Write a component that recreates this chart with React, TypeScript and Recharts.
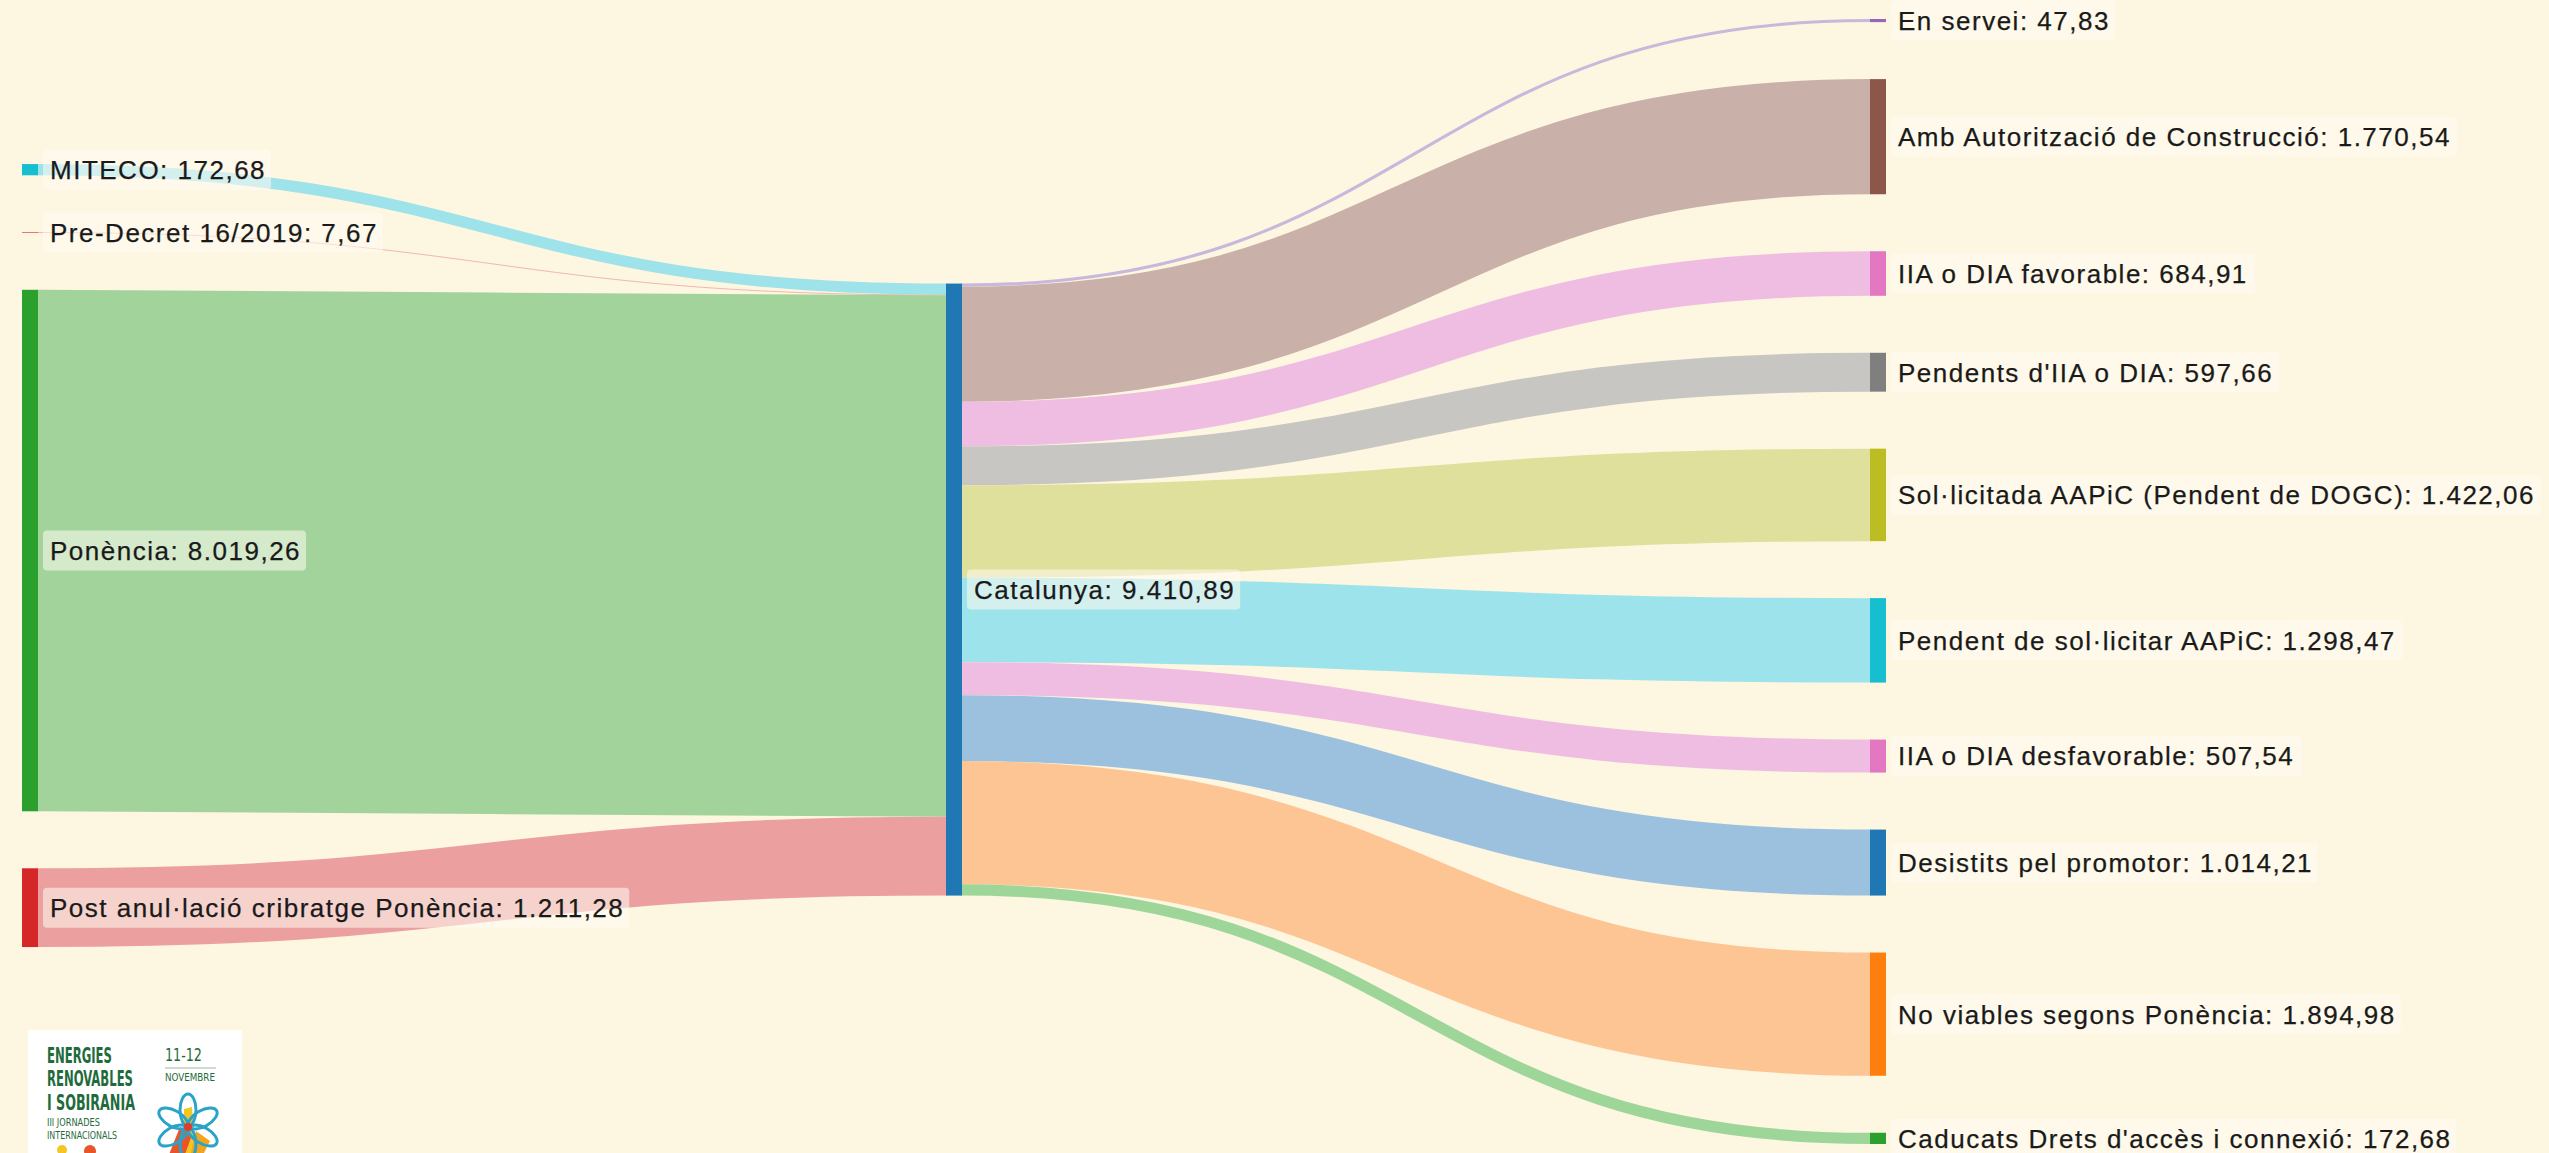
import React from 'react';
import { Sankey } from 'recharts';

// ---- data ----
const sourceNames = ['MITECO', 'Pre-Decret 16/2019', 'Ponència', 'Post anul·lació cribratge Ponència'];
const sourceValues = [172.68, 7.67, 8019.26, 1211.28];
const hubName = 'Catalunya';
const outcomeNames = [
  'En servei',
  'Amb Autorització de Construcció',
  'IIA o DIA favorable',
  "Pendents d'IIA o DIA",
  'Sol·licitada AAPiC (Pendent de DOGC)',
  'Pendent de sol·licitar AAPiC',
  'IIA o DIA desfavorable',
  'Desistits pel promotor',
  'No viables segons Ponència',
  "Caducats Drets d'accès i connexió",
];
const outcomeValues = [47.83, 1770.54, 684.91, 597.66, 1422.06, 1298.47, 507.54, 1014.21, 1894.98, 172.68];

// ---- styles ----
const sourceNodeColors = ['#17becf', '#d62728', '#2ca02c', '#d62728'];
const sourceLinkColors = ['#9ee2ea', '#eca7a7', '#a2d39b', '#eb9f9f'];
const hubColor = '#1f77b4';
const outcomeNodeColors = ['#9467bd', '#8c564b', '#e377c2', '#7f7f7f', '#bcbd22', '#17becf', '#e377c2', '#1f77b4', '#ff7f0e', '#2ca02c'];
const outcomeLinkColors = ['#c8b8dc', '#c9b0a9', '#efbde2', '#c7c6c3', '#dfe09b', '#9de3eb', '#efbde2', '#9cc1de', '#fdc594', '#9dd698'];

// invisible spacer flows that reproduce the original vertical arrangement of the columns
const spacerLeftTop = 1354;
const spacerLeftBottom = 1838;
const spacerTail = 0.001;

const BG = '#fdf6e1';
const FONT = '"Liberation Sans", Arial, Helvetica, sans-serif';
const FONT_SIZE = 26;
const LETTER_SPACING = 1.5;

// ---- build sankey data ----
type N = { name: string; color?: string; spacer?: boolean };
const nodes: N[] = [];
const links: any[] = [];
const L0 = nodes.push({ name: 's0', spacer: true }) - 1;
const srcIdx = sourceNames.map((n, i) => nodes.push({ name: n, color: sourceNodeColors[i] }) - 1);
const L1 = nodes.push({ name: 's1', spacer: true }) - 1;
const M0 = nodes.push({ name: 's2', spacer: true }) - 1;
const hub = nodes.push({ name: hubName, color: hubColor }) - 1;
const outIdx = outcomeNames.map((n, i) => nodes.push({ name: n, color: outcomeNodeColors[i] }) - 1);
const R0 = nodes.push({ name: 's3', spacer: true }) - 1;

links.push({ source: L0, target: M0, value: spacerLeftTop, spacer: true });
srcIdx.forEach((s, i) => links.push({ source: s, target: hub, value: sourceValues[i], color: sourceLinkColors[i] }));
links.push({ source: L1, target: M0, value: spacerLeftBottom, spacer: true });
outIdx.forEach((t, i) => links.push({ source: hub, target: t, value: outcomeValues[i], color: outcomeLinkColors[i] }));
links.push({ source: M0, target: R0, value: spacerTail, spacer: true });

const sankeyData = { nodes, links };

const fmt = (v: number) => {
  const [i, d] = v.toFixed(2).split('.');
  return i.replace(/\B(?=(\d{3})+(?!\d))/g, '.') + ',' + d;
};

let ctx: CanvasRenderingContext2D | null = null;
const measureFont = (s: string, font: string) => {
  if (!ctx) {
    const c = document.createElement('canvas');
    ctx = c.getContext('2d');
  }
  if (!ctx) return s.length * 10;
  ctx.font = font;
  return ctx.measureText(s).width;
};
const measure = (s: string) =>
  measureFont(s, `${FONT_SIZE}px ${FONT}`) + LETTER_SPACING * s.length;

const SankeyNode = (props: any) => {
  const { x, y, width, height, payload } = props;
  if (!payload || payload.spacer) return <g />;
  const label = `${payload.name}: ${fmt(payload.value)}`;
  const tx = x + width + 12;
  const cy = y + height / 2;
  const w = measure(label);
  return (
    <g>
      <rect x={x} y={y} width={width} height={Math.max(height, 0.6)} fill={payload.color} />
      <rect x={tx - 7} y={cy - 20} width={w + 12} height={40} rx={4} fill="#fffcf2" fillOpacity={0.55} />
      <text
        x={tx}
        y={cy}
        dy="0.36em"
        fontFamily={FONT}
        fontSize={FONT_SIZE}
        letterSpacing={LETTER_SPACING}
        fill="#1a1a1a"
        stroke="#1a1a1a"
        strokeWidth={0.25}
      >
        {label}
      </text>
    </g>
  );
};

const SankeyLink = (props: any) => {
  const { sourceX, sourceY, sourceControlX, targetX, targetY, targetControlX, linkWidth, payload } = props;
  if (!payload || payload.spacer) return <g />;
  return (
    <path
      d={`M${sourceX - 1},${sourceY}L${sourceX},${sourceY}C${sourceControlX},${sourceY} ${targetControlX},${targetY} ${targetX},${targetY}L${targetX + 1},${targetY}`}
      fill="none"
      stroke={payload.color}
      strokeWidth={Math.max(linkWidth, 0.8)}
    />
  );
};

const GREEN = '#1f6b3b';
const LOGO_FONT = '"Liberation Sans Narrow", "DejaVu Sans Condensed", sans-serif';
const FitText = ({ x, y, size, bold, width, children }: any) => {
  const natural = measureFont(children, `${bold ? 'bold ' : ''}${size}px ${LOGO_FONT}`) || width;
  const sx = width / natural;
  return (
    <text
      transform={`translate(${x},${y}) scale(${sx},1)`}
      fontFamily={LOGO_FONT}
      fontSize={size}
      fontWeight={bold ? 700 : 400}
      fill={GREEN}
    >
      {children}
    </text>
  );
};

const Logo = () => (
  <svg style={{ position: 'absolute', left: 28, top: 1030 }} width={214} height={123}>
    <rect x={0} y={0} width={214} height={123} fill="#ffffff" />
    <FitText x={19} y={33} size={21} bold width={65}>ENERGIES</FitText>
    <FitText x={19} y={56} size={21} bold width={86}>RENOVABLES</FitText>
    <FitText x={19} y={80} size={21} bold width={88}>I SOBIRANIA</FitText>
    <FitText x={19} y={96} size={10} width={53}>III JORNADES</FitText>
    <FitText x={19} y={109} size={10} width={70}>INTERNACIONALS</FitText>
    <FitText x={137} y={31} size={17} width={37}>11-12</FitText>
    <FitText x={137} y={51} size={10} width={50}>NOVEMBRE</FitText>
    <line x1={137} y1={38} x2={188} y2={38} stroke="#9bb8a4" strokeWidth={1} />
    <g transform="translate(160,97)">
      <path d="M-6,30 L-4,-18 L4,-20 L8,28 Z" fill="#f3c623" />
      <path d="M-20,30 L-8,0 L4,8 L-4,30 Z" fill="#e8552b" />
      <path d="M2,30 L8,4 L22,14 L14,30 Z" fill="#f2a51f" />
      {[0, 60, 120, 180, 240, 300].map((a) => (
        <ellipse key={a} cx={0} cy={-17} rx={8} ry={16} fill="none" stroke="#2aa3c9" strokeWidth={3} transform={`rotate(${a})`} />
      ))}
      <circle cx={0} cy={0} r={4} fill="#e53a2b" />
    </g>
    <circle cx={34} cy={120} r={5} fill="#f3c623" />
    <circle cx={62} cy={121} r={6} fill="#e8552b" />
  </svg>
);

export default function App() {
  return (
    <div style={{ position: 'relative', width: 2549, height: 1153, overflow: 'hidden', background: BG }}>
      <style>{`html,body{background:${BG};overflow:hidden;margin:0;} .recharts-surface{overflow:visible;}`}</style>
      <Sankey
        width={2549}
        height={1201}
        data={sankeyData}
        nodeWidth={16}
        nodePadding={57}
        iterations={0}
        linkCurvature={0.5}
        margin={{ top: 19, left: 22, right: 663, bottom: 0 }}
        node={<SankeyNode />}
        link={<SankeyLink />}
      />
      <Logo />
    </div>
  );
}
